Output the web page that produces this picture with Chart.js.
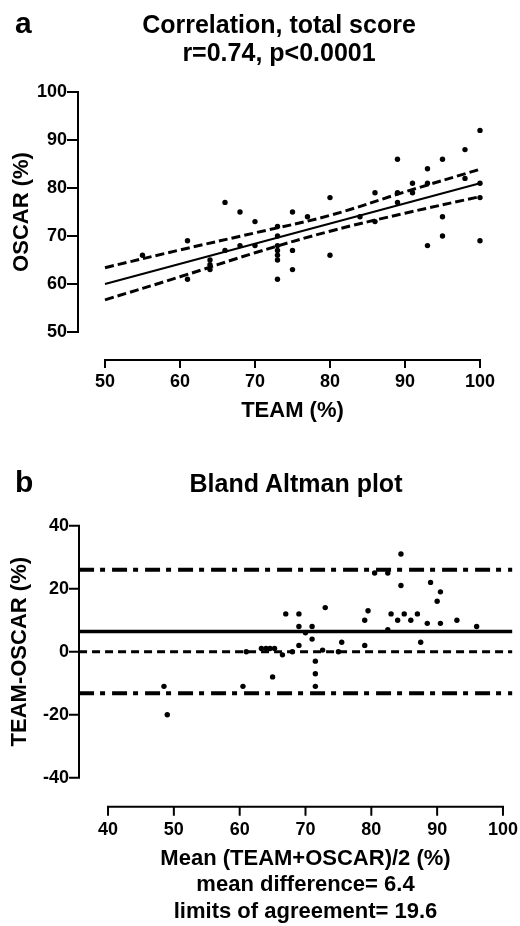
<!DOCTYPE html>
<html lang="en">

<head>
    <meta charset="UTF-8">
    <title>TEAM vs OSCAR</title>
    <script src="https://cdn.jsdelivr.net/npm/chart.js"></script>
    <style>
        body {
            margin: 0;
            width: 520px;
            height: 926px;
            overflow: hidden;
            position: relative;
            background: #fff;
            font-family: "Liberation Sans", Arial, sans-serif;
            font-weight: bold;
            color: #000;
        }

        canvas {
            position: absolute;
            left: 0;
        }

        .letter {
            position: absolute;
            left: 15px;
            font-size: 30px;
            line-height: 30px;
        }

        .title {
            position: absolute;
            left: 0;
            font-size: 25px;
            line-height: 28px;
            text-align: center;
            white-space: nowrap;
        }
    </style>
</head>

<body>
    <canvas id="corr" width="520" height="430" style="top:0"></canvas>
    <canvas id="bland" width="540" height="476" style="top:450px"></canvas>

    <div class="letter" style="top:8px">a</div>
    <div class="title" style="top:10px; width:558px">Correlation, total score<br>r=0.74, p&lt;0.0001</div>
    <div class="letter" style="top:467px">b</div>
    <div class="title" style="top:469px; width:592px">Bland Altman plot</div>

    <script>
        // panel a: TEAM (%) vs OSCAR (%)
        const teamX = [55, 61, 61, 64, 64, 64, 66, 66, 68, 68, 70, 70, 73, 73, 73, 73, 73, 73, 73, 75, 75, 75, 77,
            80, 80, 84, 86, 86, 89, 89, 89, 91, 91, 93, 93, 93, 95, 95, 95, 98, 98, 100, 100, 100, 100];
        const oscarY = [66, 69, 61, 65, 64, 63, 77, 67, 75, 68, 73, 68, 72, 70, 68, 67, 66, 65, 61, 75, 67, 63, 74,
            78, 66, 74, 79, 73, 86, 79, 77, 81, 79, 84, 81, 68, 86, 74, 70, 88, 82, 92, 81, 78, 69];

        // regression line and 95% confidence band
        const fitX = [50, 100];
        const fitY = [60, 81];
        const bandX = [50, 60, 70, 80, 90, 100];
        const bandUpper = [63.4, 67.1, 70.65, 74.3, 79.2, 83.9];
        const bandLower = [56.7, 61.5, 66.5, 71.0, 74.75, 78.2];

        const corrXTicks = [50, 60, 70, 80, 90, 100];
        const corrYTicks = [50, 60, 70, 80, 90, 100];

        // panel b: Bland Altman
        const meanX = [48.5, 49, 60.5, 61, 63.3, 64, 64.6, 65.3, 65, 66.5, 67, 68, 69, 69, 69, 70, 71, 71, 71.5, 71.5,
            71.5, 72.6, 73, 75, 75.5, 79, 79, 79.5, 80.5, 82.5, 82.5, 83, 84, 84.5, 84.5, 85, 86, 87, 87.5, 88.5,
            89, 90, 90.5, 90.5, 93, 96];
        const diffY = [-11, -20, -11, 0, 1, 1, 1, 1, -8, -1, 12, 0, 12, 8, 2, 6, 8, 4, -3, -7,
            -11, 0.5, 14, 0, 3, 2, 10, 13, 25, 25, 7, 12, 10, 21, 31, 12, 10, 12, 3, 9,
            22, 16, 19, 9, 10, 8];

        const meanDiff = 6.4;
        const loaUpper = 26.0;
        const loaLower = -13.2;
        const refX = [35.6, 101.4];

        const blandXTicks = [40, 50, 60, 70, 80, 90, 100];
        const blandYTicks = [-40, -20, 0, 20, 40];

        const FONT = '"Liberation Sans", Arial, sans-serif';
        Chart.defaults.font.family = FONT;
        Chart.defaults.color = '#000';

        const pts = (xs, ys) => xs.map((x, i) => ({ x: x, y: ys[i] }));
        const flat = (xs, v) => xs.map(x => ({ x: x, y: v }));

        // Prism-style detached axes, drawn only over the tick range
        const prismAxes = {
            id: 'prismAxes',
            afterDraw(chart, args, opts) {
                const { ctx, chartArea } = chart;
                const sx = chart.scales.x, sy = chart.scales.y;
                const xt = opts.xTicks, yt = opts.yTicks;
                ctx.save();
                ctx.strokeStyle = '#000';
                ctx.lineWidth = 2;
                ctx.lineCap = 'square';
                ctx.beginPath();
                const y0 = chartArea.bottom;
                ctx.moveTo(sx.getPixelForValue(xt[0]), y0);
                ctx.lineTo(sx.getPixelForValue(xt[xt.length - 1]), y0);
                xt.forEach(v => {
                    const px = sx.getPixelForValue(v);
                    ctx.moveTo(px, y0);
                    ctx.lineTo(px, y0 + opts.xTick);
                });
                const x0 = chartArea.left;
                ctx.moveTo(x0, sy.getPixelForValue(yt[0]));
                ctx.lineTo(x0, sy.getPixelForValue(yt[yt.length - 1]));
                yt.forEach(v => {
                    const py = sy.getPixelForValue(v);
                    ctx.moveTo(x0, py);
                    ctx.lineTo(x0 - opts.yTick, py);
                });
                ctx.stroke();
                ctx.restore();
            }
        };

        const axisOpts = (min, max, ticks, size, pad, title, titlePad, fit) => ({
            type: 'linear',
            min: min,
            max: max,
            afterBuildTicks: s => { s.ticks = ticks.map(v => ({ value: v })); },
            afterFit: fit,
            grid: { display: false, drawTicks: false },
            border: { display: false },
            ticks: { font: { size: 18, weight: 'bold' }, color: '#000', padding: pad, maxRotation: 0 },
            title: { display: true, text: title, font: { size: 22, weight: 'bold' }, color: '#000', padding: titlePad }
        });

        new Chart(document.getElementById('corr'), {
            type: 'scatter',
            data: {
                datasets: [{
                    label: 'data',
                    data: pts(teamX, oscarY),
                    pointRadius: 2.7,
                    backgroundColor: '#000',
                    borderWidth: 0
                }, {
                    label: 'fit',
                    data: pts(fitX, fitY),
                    showLine: true,
                    pointRadius: 0,
                    borderColor: '#000',
                    borderWidth: 2
                }, {
                    label: 'upper 95%',
                    data: pts(bandX, bandUpper),
                    showLine: true,
                    tension: 0.4,
                    pointRadius: 0,
                    borderColor: '#000',
                    borderWidth: 3,
                    borderDash: [9, 4]
                }, {
                    label: 'lower 95%',
                    data: pts(bandX, bandLower),
                    showLine: true,
                    tension: 0.4,
                    pointRadius: 0,
                    borderColor: '#000',
                    borderWidth: 3,
                    borderDash: [9, 4]
                }]
            },
            options: {
                responsive: false,
                animation: false,
                layout: { padding: { top: 64, right: 13, bottom: 0, left: 0 } },
                scales: {
                    x: axisOpts(46.4, 103.6, corrXTicks, 0, 11, 'TEAM (%)', { top: 0, bottom: 6 }, s => { s.height = 70; }),
                    y: axisOpts(44.167, 105.833, corrYTicks, 0, 11, 'OSCAR (%)', { top: 9, bottom: 0 }, s => { s.width = 78; })
                },
                plugins: {
                    legend: { display: false },
                    tooltip: { enabled: false },
                    prismAxes: { xTicks: corrXTicks, yTicks: corrYTicks, xTick: 7, yTick: 10 }
                }
            },
            plugins: [prismAxes]
        });

        new Chart(document.getElementById('bland'), {
            type: 'scatter',
            data: {
                datasets: [{
                    label: 'difference',
                    data: pts(meanX, diffY),
                    pointRadius: 2.7,
                    backgroundColor: '#000',
                    borderWidth: 0
                }, {
                    label: 'mean difference',
                    data: flat(refX, meanDiff),
                    showLine: true,
                    pointRadius: 0,
                    borderColor: '#000',
                    borderWidth: 3.5
                }, {
                    label: 'upper limit',
                    data: flat(refX, loaUpper),
                    showLine: true,
                    pointRadius: 0,
                    borderColor: '#000',
                    borderWidth: 4,
                    borderDash: [15, 6, 5, 7]
                }, {
                    label: 'lower limit',
                    data: flat(refX, loaLower),
                    showLine: true,
                    pointRadius: 0,
                    borderColor: '#000',
                    borderWidth: 4,
                    borderDash: [15, 6, 5, 7]
                }, {
                    label: 'zero',
                    data: flat(refX, 0),
                    showLine: true,
                    pointRadius: 0,
                    borderColor: '#000',
                    borderWidth: 3,
                    borderDash: [8, 5]
                }]
            },
            options: {
                responsive: false,
                animation: false,
                layout: { padding: { top: 46.7, right: 8, bottom: 0, left: 0 } },
                scales: {
                    x: axisOpts(35.59, 104.41, blandXTicks, 0, 12.5,
                        ['Mean (TEAM+OSCAR)/2 (%)', 'mean difference= 6.4', 'limits of agreement= 19.6'],
                        { top: 0, bottom: 1 }, s => { s.height = 119.3; }),
                    y: axisOpts(-49.2, 49.2, blandYTicks, 0, 10, 'TEAM-OSCAR (%)', { top: 7, bottom: 0 }, s => { s.width = 79; })
                },
                plugins: {
                    legend: { display: false },
                    tooltip: { enabled: false },
                    prismAxes: { xTicks: blandXTicks, yTicks: blandYTicks, xTick: 8, yTick: 9 }
                }
            },
            plugins: [prismAxes]
        });
    </script>
</body>

</html>
